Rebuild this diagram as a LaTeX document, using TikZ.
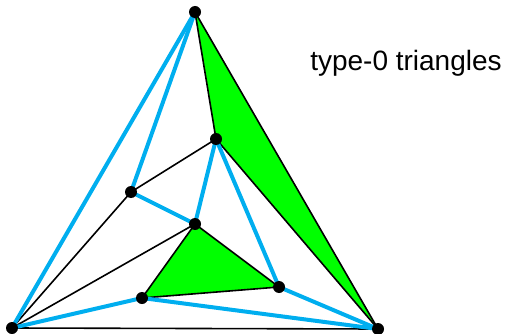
\documentclass[tikz,border=0pt]{standalone}
\usepackage{fontspec}
\setmainfont{Liberation Sans}
\usepackage{xcolor}
\usetikzlibrary{positioning}
\definecolor{edgeblue}{RGB}{0,174,239}
\definecolor{facegreen}{RGB}{0,255,0}

\begin{document}
\begin{tikzpicture}[
  x=1pt,y=-1pt,
  vtx/.style={circle,fill=black,inner sep=0pt,minimum size=12pt},
  blueedge/.style={draw=edgeblue,line width=4pt},
  blackedge/.style={draw=black,line width=1.6pt},
  face/.style={fill=facegreen}
]
\useasboundingbox (0,0) rectangle (508,334);
\coordinate (top) at (195,12);
\coordinate (left) at (12,328);
\coordinate (right) at (378,329);
\coordinate (a) at (216,139);
\coordinate (b) at (131,192);
\coordinate (c) at (195,224);
\coordinate (d) at (142,298);
\coordinate (e) at (279,287);
% green faces
\fill[face] (top) -- (a) -- (right) -- cycle;
\fill[face] (c) -- (d) -- (e) -- cycle;
% black edges
\draw[blackedge] (top) -- (a);
\draw[blackedge] (top) -- (right);
\draw[blackedge] (a) -- (right);
\draw[blackedge] (a) -- (b);
\draw[blackedge] (b) -- (left);
\draw[blackedge] (c) -- (left);
\draw[blackedge] (c) -- (d);
\draw[blackedge] (c) -- (e);
\draw[blackedge] (d) -- (e);
\draw[blackedge] (left) -- (right);
% blue edges
\draw[blueedge] (top) -- (left);
\draw[blueedge] (top) -- (b);
\draw[blueedge] (a) -- (c);
\draw[blueedge] (a) -- (e);
\draw[blueedge] (b) -- (c);
\draw[blueedge] (d) -- (left);
\draw[blueedge] (d) -- (right);
\draw[blueedge] (e) -- (right);
% vertices on top
\foreach \v in {top,left,right,a,b,c,d,e}
  \node[vtx] (\v-dot) at (\v) {};
\node[font=\fontsize{28}{32}\selectfont] (label) at (406,63) {type-0 triangles};
\end{tikzpicture}
\end{document}
